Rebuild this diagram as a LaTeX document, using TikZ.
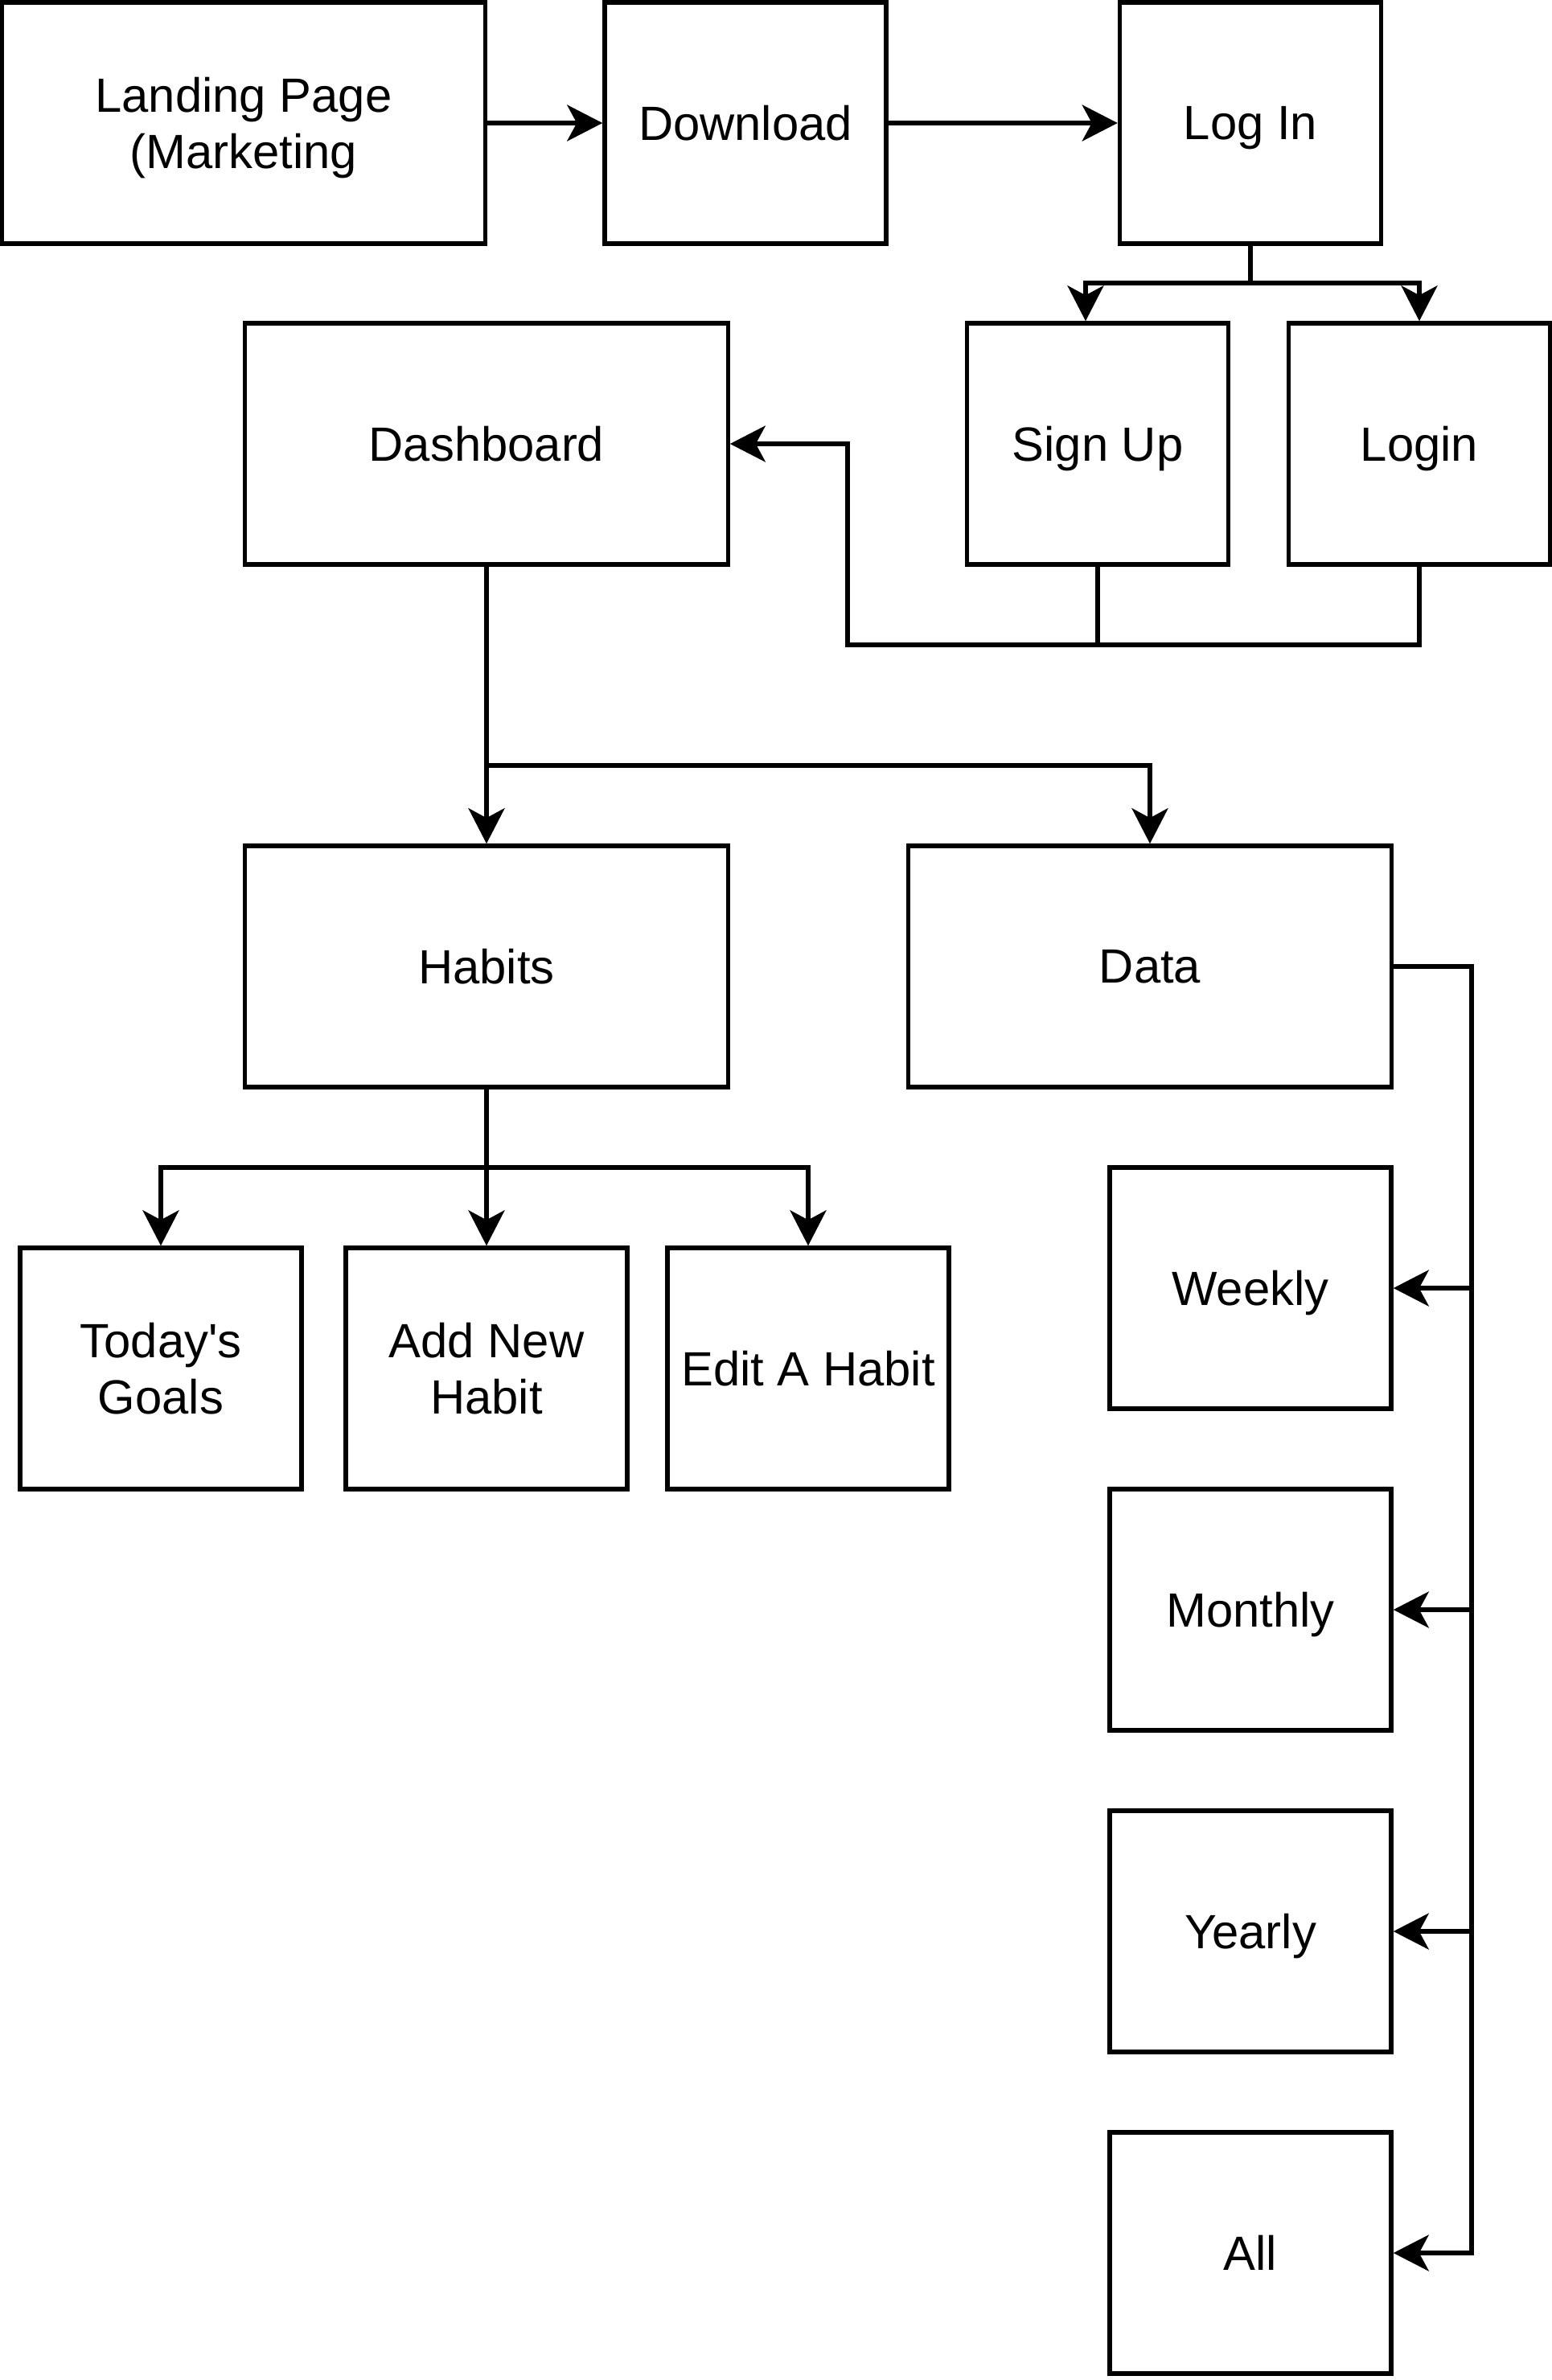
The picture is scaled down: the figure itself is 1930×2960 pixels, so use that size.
\documentclass[tikz,border=0pt]{standalone}
\usepackage{fontspec}
\setmainfont{Liberation Sans}
\usetikzlibrary{arrows.meta}

\begin{document}
\begin{tikzpicture}[x=0.01cm,y=-0.01cm,
  box/.style={draw,line width=1.5pt,minimum height=3cm,align=center,
    font=\fontsize{17}{20}\selectfont,inner sep=2pt,text depth=0pt},
  link/.style={line width=1.5pt},
  arr/.style={link,-{Stealth[length=0.44cm,width=0.45cm,inset=0.12cm]}}]
\useasboundingbox (0,0) rectangle (1930,2960);

% Top row
\node[box,minimum width=6cm] (landing) at (303,153) {Landing Page\\(Marketing};
\node[box,minimum width=3.5cm] (download) at (927,153) {Download};
\node[box,minimum width=3.25cm] (logintop) at (1555,153) {Log In};

% Auth
\node[box,minimum width=3.25cm] (signup) at (1365,552) {Sign Up};
\node[box,minimum width=3.25cm] (loginbox) at (1765,552) {Login};
\node[box,minimum width=6cm] (dashboard) at (605,552) {Dashboard};

% Sections
\node[box,minimum width=6cm] (habits) at (605,1202) {Habits};
\node[box,minimum width=6cm] (data) at (1430,1202) {Data};

% Habit pages
\node[box,minimum width=3.5cm] (goals) at (200,1702) {Today\textquotesingle s\\Goals};
\node[box,minimum width=3.5cm] (addhabit) at (605,1702) {Add New\\Habit};
\node[box,minimum width=3.5cm] (edithabit) at (1005,1702) {Edit A Habit};

% Data pages
\node[box,minimum width=3.5cm] (weekly) at (1555,1602) {Weekly};
\node[box,minimum width=3.5cm] (monthly) at (1555,2002) {Monthly};
\node[box,minimum width=3.5cm] (yearly) at (1555,2402) {Yearly};
\node[box,minimum width=3.5cm] (all) at (1555,2802) {All};

\coordinate (loginsplit) at (1555,352);
\coordinate (authjoin) at (1054,802);
\coordinate (dashsplit) at (605,952);
\coordinate (habitsplit) at (605,1452);
\coordinate (databus) at (1830,1202);

\draw[arr] (landing.east) -- (download.west);
\draw[arr] (download.east) -- (logintop.west);

\draw[link] (logintop.south) -- (loginsplit);
\draw[arr] (loginsplit) -| ([xshift=-0.15cm]signup.north);
\draw[arr] (loginsplit) -| (loginbox.north);

\draw[link] (signup.south) -- (signup.south |- authjoin);
\draw[arr] (loginbox.south) |- (authjoin) |- (dashboard.east);

\draw[arr] (dashboard.south) -- (habits.north);
\draw[arr] (dashsplit) -| (data.north);

\draw[arr] (habits.south) -- (addhabit.north);
\draw[arr] (habitsplit) -| (goals.north);
\draw[arr] (habitsplit) -| (edithabit.north);

\draw[arr] (data.east) -| (databus |- all.east) -- (all.east);
\foreach \page in {weekly,monthly,yearly}
  \draw[arr] (databus |- \page.east) -- (\page.east);
\end{tikzpicture}
\end{document}
